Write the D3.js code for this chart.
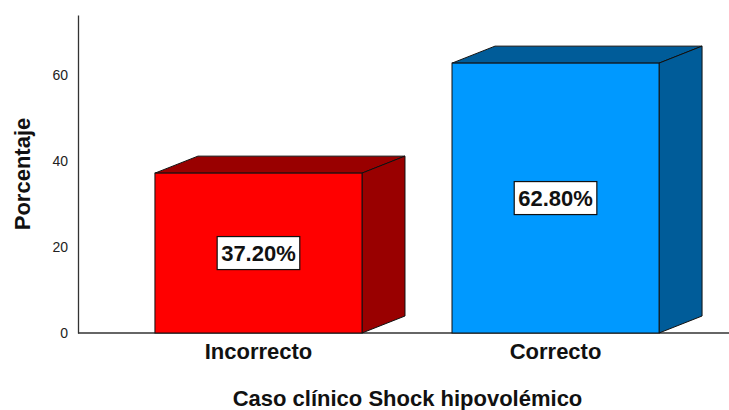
<!DOCTYPE html>
<html>
<head>
<meta charset="utf-8">
<script src="https://cdn.jsdelivr.net/npm/d3@7"></script>
<style>
  body { margin: 0; background: #fff; }
  text { font-family: "Liberation Sans", Arial, sans-serif; }
</style>
</head>
<body>
<svg width="729" height="410"></svg>
<script>
const categories = ["Incorrecto", "Correcto"];
const percentages = [37.2, 62.8];
const valueLabels = ["37.20%", "62.80%"];
const yTicks = [0, 20, 40, 60];
const frontColors = ["#ff0000", "#0099ff"];
const darkColors = ["#990000", "#005c99"];

const svg = d3.select("svg");
const plotLeft = 78, plotRight = 729, plotTop = 15, plotBottom = 333;
// 3d depth of the boxes
const dx = 43, dy = -17;

const x = d3.scaleBand()
  .domain(categories)
  .range([plotLeft, 736])
  .paddingInner(0.303)
  .paddingOuter(0.259);

const y = d3.scaleLinear().domain([0, 74]).range([plotBottom, plotTop]);

// y axis
const yAxis = svg.append("g")
  .attr("transform", `translate(${plotLeft},0)`)
  .call(d3.axisLeft(y).tickValues(yTicks).tickSize(0).tickSizeOuter(0).tickPadding(10));
yAxis.select(".domain").attr("stroke", "#333").attr("stroke-width", 1.3);
yAxis.selectAll("text")
  .attr("font-size", 14)
  .attr("fill", "#222")
  .style("font-family", "'Liberation Sans', Arial, sans-serif");

// baseline
svg.append("line")
  .attr("x1", plotLeft).attr("x2", plotRight)
  .attr("y1", y(0)).attr("y2", y(0))
  .attr("stroke", "#333").attr("stroke-width", 1.3);

const bars = svg.selectAll(".bar")
  .data(categories)
  .enter().append("g")
  .attr("class", "bar");

bars.each(function (c, i) {
  const g = d3.select(this);
  const x0 = x(c), x1 = x(c) + x.bandwidth();
  const y0 = y(0), y1 = y(percentages[i]);

  // top face
  g.append("path")
    .attr("d", `M${x0},${y1} L${x0 + dx},${y1 + dy} L${x1 + dx},${y1 + dy} L${x1},${y1} Z`)
    .attr("fill", darkColors[i]).attr("stroke", "#111").attr("stroke-width", 1);
  // side face
  g.append("path")
    .attr("d", `M${x1},${y1} L${x1 + dx},${y1 + dy} L${x1 + dx},${y0 + dy} L${x1},${y0} Z`)
    .attr("fill", darkColors[i]).attr("stroke", "#111").attr("stroke-width", 1);
  // front face
  g.append("rect")
    .attr("x", x0).attr("y", y1)
    .attr("width", x.bandwidth()).attr("height", y0 - y1)
    .attr("fill", frontColors[i]).attr("stroke", "#111").attr("stroke-width", 1);

  // value label in a white box
  const cx = (x0 + x1) / 2, cy = (y0 + y1) / 2;
  const box = g.append("rect").attr("fill", "#fff").attr("stroke", "#111").attr("stroke-width", 1.2);
  const t = g.append("text")
    .attr("x", cx).attr("y", cy)
    .attr("text-anchor", "middle")
    .attr("dominant-baseline", "central")
    .attr("font-size", 22).attr("font-weight", "bold").attr("fill", "#111")
    .text(valueLabels[i]);
  const bb = t.node().getBBox();
  box.attr("x", cx - bb.width / 2 - 4).attr("y", cy - 16.5)
    .attr("width", bb.width + 8).attr("height", 33);
});

// category labels
svg.selectAll(".cat")
  .data(categories)
  .enter().append("text")
  .attr("class", "cat")
  .attr("x", d => x(d) + x.bandwidth() / 2)
  .attr("y", 359)
  .attr("text-anchor", "middle")
  .attr("font-size", 22).attr("font-weight", "bold").attr("fill", "#111")
  .text(d => d);

// axis titles
svg.append("text")
  .attr("x", (plotLeft + plotRight) / 2 + 4).attr("y", 406)
  .attr("text-anchor", "middle")
  .attr("font-size", 22).attr("font-weight", "bold").attr("fill", "#111")
  .text("Caso clínico Shock hipovolémico");

svg.append("text")
  .attr("transform", `translate(30,${(plotTop + plotBottom) / 2}) rotate(-90)`)
  .attr("text-anchor", "middle")
  .attr("font-size", 22).attr("font-weight", "bold").attr("fill", "#111")
  .text("Porcentaje");
</script>
</body>
</html>
